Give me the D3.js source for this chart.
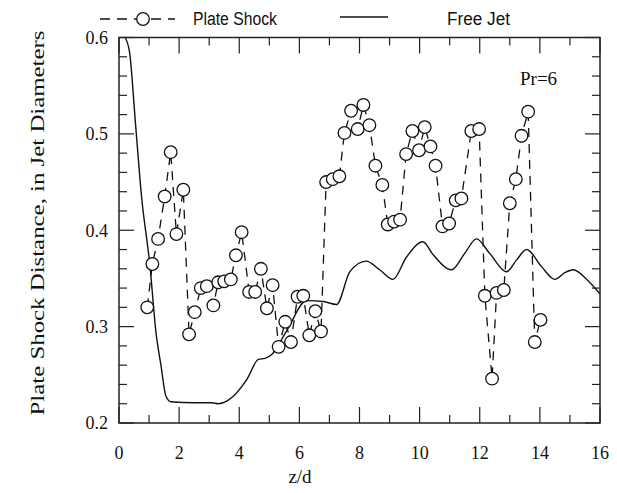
<!DOCTYPE html>
<html>
<head>
<meta charset="utf-8">
<script src="https://cdn.jsdelivr.net/npm/d3@7"></script>
<style>
  body { margin: 0; background: #fff; }
  svg { display: block; }
  text { fill: #111; }
</style>
</head>
<body>
<div id="chart"></div>
<script>
// plate shock standoff distance
var shockZ = [0.94, 1.11, 1.30, 1.52, 1.72, 1.91, 2.14, 2.33, 2.52, 2.72, 2.92, 3.14, 3.30, 3.50, 3.72,
              3.89, 4.08, 4.33, 4.53, 4.72, 4.92, 5.11, 5.31, 5.53, 5.72, 5.94, 6.13, 6.33, 6.53, 6.72,
              6.89, 7.11, 7.33, 7.50, 7.72, 7.94, 8.13, 8.33, 8.53, 8.76, 8.94, 9.15, 9.35, 9.55, 9.76,
              9.98, 10.17, 10.36, 10.53, 10.76, 10.98, 11.20, 11.39, 11.72, 11.98, 12.17, 12.41, 12.56,
              12.80, 13.00, 13.20, 13.39, 13.61, 13.83, 14.02];
var shockV = [0.320, 0.365, 0.391, 0.435, 0.481, 0.396, 0.442, 0.292, 0.315, 0.340, 0.342, 0.322, 0.346, 0.347, 0.349,
              0.374, 0.398, 0.336, 0.336, 0.360, 0.319, 0.343, 0.279, 0.305, 0.284, 0.331, 0.332, 0.291, 0.316, 0.295,
              0.450, 0.453, 0.456, 0.501, 0.524, 0.505, 0.530, 0.509, 0.467, 0.447, 0.406, 0.409, 0.411, 0.479, 0.503,
              0.483, 0.507, 0.487, 0.467, 0.404, 0.407, 0.431, 0.433, 0.503, 0.505, 0.332, 0.246, 0.335,
              0.338, 0.428, 0.453, 0.498, 0.523, 0.284, 0.307];

// free jet shock distance
var jetZ = [0.20, 0.35, 0.55, 0.75, 1.03, 1.23, 1.40, 1.56, 1.73, 2.50, 3.10, 3.30, 3.60, 4.25, 4.64, 4.86,
            5.08, 5.60, 6.24, 6.80, 7.24, 7.68, 8.22, 8.67, 9.11, 9.56, 10.11, 10.44, 11.06, 11.50, 11.89,
            12.33, 12.89, 13.22, 13.56, 14.06, 14.50, 14.83, 15.11, 15.56, 16.00];
var jetV = [0.600, 0.585, 0.510, 0.435, 0.363, 0.294, 0.259, 0.228, 0.222, 0.221, 0.221, 0.220, 0.223, 0.245, 0.266, 0.267,
            0.271, 0.297, 0.327, 0.326, 0.323, 0.357, 0.368, 0.359, 0.349, 0.372, 0.388, 0.375, 0.359, 0.376, 0.391,
            0.376, 0.357, 0.369, 0.380, 0.362, 0.349, 0.356, 0.359, 0.349, 0.334];

var xTicks = [0, 2, 4, 6, 8, 10, 12, 14, 16];
var yTicks = [0.2, 0.3, 0.4, 0.5, 0.6];

(function() {
    var width = 617, height = 493;
    var plotL = 119, plotR = 600, plotT = 37.5, plotB = 423;

    var svg = d3.select('#chart').append('svg')
        .attr('width', width)
        .attr('height', height);

    var x = d3.scaleLinear().domain([0, 16]).range([plotL, plotR]);
    var y = d3.scaleLinear().domain([0.2, 0.6]).range([plotB, plotT]);

    var serif = '"Liberation Serif", "Times New Roman", serif';

    // ticks on all four sides, pointing inward
    var minorX = d3.range(0, 17, 1);
    var minorY = d3.range(0, 21).map(function(i) { return 0.2 + i * 0.02; });

    var tickG = svg.append('g').attr('stroke', '#222').attr('stroke-width', 1.2);
    minorX.forEach(function(v) {
        var len = (v % 2 === 0) ? 16 : 8;
        tickG.append('line').attr('x1', x(v)).attr('x2', x(v)).attr('y1', plotB).attr('y2', plotB - len);
        tickG.append('line').attr('x1', x(v)).attr('x2', x(v)).attr('y1', plotT).attr('y2', plotT + len);
    });
    minorY.forEach(function(v, i) {
        var len = (i % 5 === 0) ? 15 : 8;
        tickG.append('line').attr('x1', plotL).attr('x2', plotL + len).attr('y1', y(v)).attr('y2', y(v));
        tickG.append('line').attr('x1', plotR).attr('x2', plotR - len).attr('y1', y(v)).attr('y2', y(v));
    });

    svg.append('rect')
        .attr('x', plotL).attr('y', plotT)
        .attr('width', plotR - plotL).attr('height', plotB - plotT)
        .attr('fill', 'none').attr('stroke', '#222').attr('stroke-width', 1.5);

    // tick labels
    svg.append('g').selectAll('text')
        .data(xTicks)
        .join('text')
        .attr('x', function(d) { return x(d); })
        .attr('y', 459)
        .attr('text-anchor', 'middle')
        .attr('font-family', serif)
        .attr('font-size', 18)
        .text(function(d) { return d; });

    svg.append('g').selectAll('text')
        .data(yTicks)
        .join('text')
        .attr('x', 108)
        .attr('y', function(d) { return y(d); })
        .attr('dy', '0.35em')
        .attr('text-anchor', 'end')
        .attr('font-family', serif)
        .attr('font-size', 18)
        .text(function(d) { return d.toFixed(1); });

    svg.append('text')
        .attr('x', 300).attr('y', 483)
        .attr('text-anchor', 'middle')
        .attr('font-family', serif)
        .attr('font-size', 19)
        .text('z/d');

    svg.append('text')
        .attr('transform', 'translate(44,223) rotate(-90)')
        .attr('text-anchor', 'middle')
        .attr('font-family', serif)
        .attr('font-size', 19)
        .attr('textLength', 385)
        .attr('lengthAdjust', 'spacingAndGlyphs')
        .text('Plate Shock Distance, in Jet Diameters');

    svg.append('text')
        .attr('x', 520).attr('y', 85)
        .attr('font-family', serif)
        .attr('font-size', 19)
        .text('Pr=6');

    // free jet curve
    var jetData = jetZ.map(function(z, i) { return [z, jetV[i]]; });
    svg.append('path')
        .datum(jetData)
        .attr('fill', 'none')
        .attr('stroke', '#111')
        .attr('stroke-width', 1.4)
        .attr('d', d3.line()
            .x(function(d) { return x(d[0]); })
            .y(function(d) { return y(d[1]); })
            .curve(d3.curveMonotoneX));

    // plate shock dashed line + circles
    var shockData = shockZ.map(function(z, i) { return [z, shockV[i]]; });
    svg.append('path')
        .datum(shockData)
        .attr('fill', 'none')
        .attr('stroke', '#111')
        .attr('stroke-width', 1.3)
        .attr('stroke-dasharray', '9,7')
        .attr('d', d3.line()
            .x(function(d) { return x(d[0]); })
            .y(function(d) { return y(d[1]); }));

    svg.append('g').selectAll('circle')
        .data(shockData)
        .join('circle')
        .attr('cx', function(d) { return x(d[0]); })
        .attr('cy', function(d) { return y(d[1]); })
        .attr('r', 6.3)
        .attr('fill', '#fff')
        .attr('stroke', '#111')
        .attr('stroke-width', 1.3);

    // legend
    var sans = '"Liberation Sans Narrow", "Arial Narrow", "Liberation Sans", sans-serif';
    svg.append('line')
        .attr('x1', 100).attr('x2', 175).attr('y1', 19).attr('y2', 19)
        .attr('stroke', '#111').attr('stroke-width', 1.3)
        .attr('stroke-dasharray', '10,7');
    svg.append('circle')
        .attr('cx', 143).attr('cy', 19).attr('r', 6.3)
        .attr('fill', '#fff').attr('stroke', '#111').attr('stroke-width', 1.3);
    svg.append('text')
        .attr('x', 193).attr('y', 25)
        .attr('font-family', sans)
        .attr('font-size', 18)
        .attr('textLength', 84)
        .attr('lengthAdjust', 'spacingAndGlyphs')
        .text('Plate Shock');

    svg.append('line')
        .attr('x1', 340).attr('x2', 388).attr('y1', 17).attr('y2', 17)
        .attr('stroke', '#111').attr('stroke-width', 1.3);
    svg.append('text')
        .attr('x', 447).attr('y', 25)
        .attr('font-family', sans)
        .attr('font-size', 18)
        .attr('textLength', 63)
        .attr('lengthAdjust', 'spacingAndGlyphs')
        .text('Free Jet');
})();
</script>
</body>
</html>
